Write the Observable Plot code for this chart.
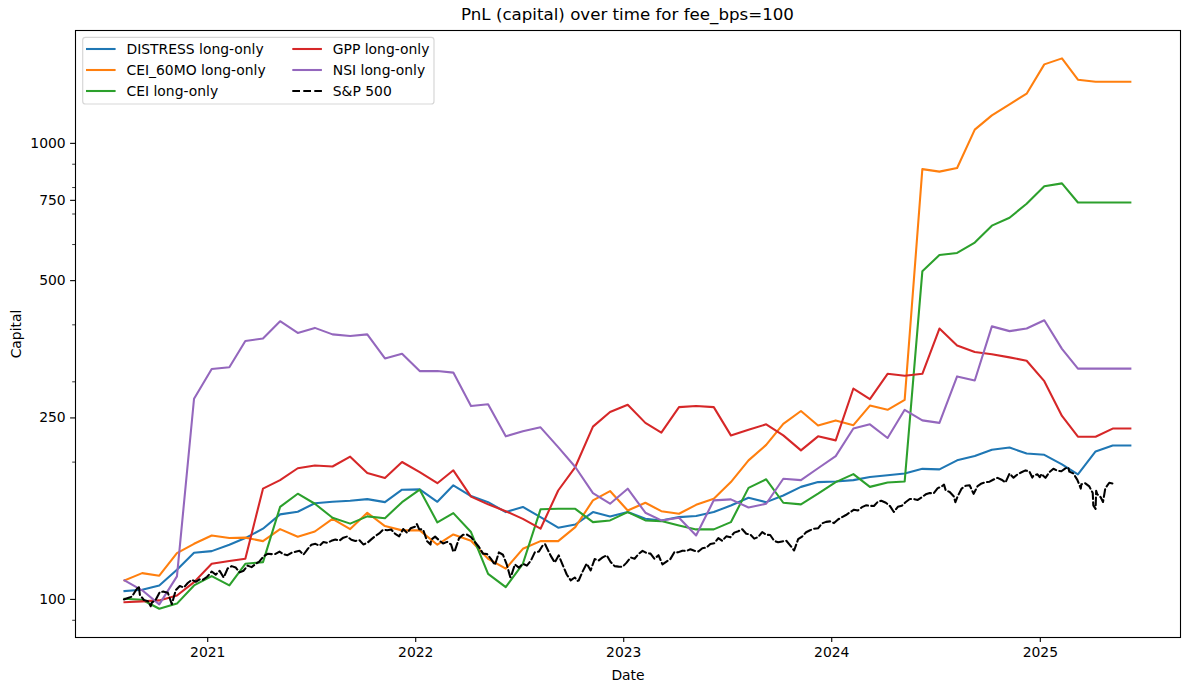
<!DOCTYPE html>
<html><head><meta charset="utf-8">
<script src="https://cdn.jsdelivr.net/npm/d3@7"></script>
<script src="https://cdn.jsdelivr.net/npm/@observablehq/plot@0.6"></script>
<style>
html,body{margin:0;padding:0;background:#fff;}
#wrap{position:relative;width:1189px;height:690px;font-family:"DejaVu Sans",sans-serif;}
#overlay{position:absolute;left:0;top:0;pointer-events:none;}
</style></head><body><div id="wrap"></div>
<script>
const titleText = "PnL (capital) over time for fee_bps=100";
const xLabel = "Date";
const yLabel = "Capital";
const yearTicks = ["2021-01-01","2022-01-01","2023-01-01","2024-01-01","2025-01-01"];
const yMajorTicks = [100, 250, 500, 750, 1000];
const yMinorTicks = [90, 200, 300, 400, 600, 700, 800, 900];

const seriesNames = ["DISTRESS long-only","CEI_60MO long-only","CEI long-only","GPP long-only","NSI long-only"];
const seriesColors = ["#1f77b4","#ff7f0e","#2ca02c","#d62728","#9467bd"];
const benchName = "S&P 500";

const monthDates = [
"2020-08-08","2020-09-08","2020-10-08","2020-11-08","2020-12-08",
"2021-01-08","2021-02-08","2021-03-08","2021-04-08","2021-05-08","2021-06-08","2021-07-08","2021-08-08","2021-09-08","2021-10-08","2021-11-08","2021-12-08",
"2022-01-08","2022-02-08","2022-03-08","2022-04-08","2022-05-08","2022-06-08","2022-07-08","2022-08-08","2022-09-08","2022-10-08","2022-11-08","2022-12-08",
"2023-01-08","2023-02-08","2023-03-08","2023-04-08","2023-05-08","2023-06-08","2023-07-08","2023-08-08","2023-09-08","2023-10-08","2023-11-08","2023-12-08",
"2024-01-08","2024-02-08","2024-03-08","2024-04-08","2024-05-08","2024-06-08","2024-07-08","2024-08-08","2024-09-08","2024-10-08","2024-11-08","2024-12-08",
"2025-01-08","2025-02-08","2025-03-08","2025-04-08","2025-05-08","2025-06-08"];

const distress = [104.3,105.0,107.3,116.2,126.6,127.6,131.8,136.3,142.9,153.6,155.7,162.5,163.7,164.5,165.9,163.4,174.0,
174.3,163.7,177.9,168.5,163.4,155.4,159.5,151.5,143.6,145.9,155.4,152.0,
155.4,150.2,149.0,151.5,152.3,155.4,160.7,167.1,163.4,169.0,176.5,180.8,
181.4,182.6,185.6,187.2,188.9,193.3,192.8,201.8,206.2,212.9,215.3,208.9,
207.5,197.8,187.9,211.1,217.5,217.5];

const cei60 = [110.1,114.2,112.7,126.3,132.4,138.1,136.3,136.6,134.2,142.6,137.2,140.9,150.2,142.6,154.9,144.8,141.7,
141.7,131.8,138.8,134.5,122.8,116.8,129.1,134.2,134.2,144.0,164.9,172.8,
156.6,162.9,156.1,154.1,161.2,166.2,180.8,201.8,218.2,242.7,258.9,240.6,
246.9,241.0,266.1,260.5,273.9,878,867,883,1072,1152,1218,1285,
1490,1536,1379,1365,1365,1365];

const cei = [100.3,99.8,95.4,97.9,107.3,112.5,107.3,119.7,120.7,159.5,170.5,162.1,151.0,146.6,152.1,150.7,163.4,
174.0,147.5,154.6,140.5,113.8,106.4,119.7,157.6,158.0,158.0,147.7,149.0,
155.4,149.0,148.5,145.3,142.4,142.4,147.7,175.6,183.4,162.9,161.6,170.5,
180.8,188.2,176.5,180.4,181.4,524,569,575,606,660,687,737,
805,817,742,742,742,742];

const gpp = [98.6,99.0,99.5,102.0,109.1,119.7,121.4,122.8,174.9,182.6,193.9,196.6,195.6,205.6,189.3,184.6,200.1,
190.2,179.8,191.9,168.0,161.6,156.1,150.2,142.9,173.3,195.1,239.3,257.5,
267.2,243.8,232.1,264.0,265.4,264.0,228.9,235.6,242.0,228.9,212.2,227.8,
223.2,290,275,312.4,309.3,312.4,392.6,360.5,348.6,344.9,339.4,333.7,
301.0,252.5,227.4,227.4,236.9,236.9];

const nsi = [110.1,104.7,97.5,112.3,275.4,320.0,322.8,368.7,373.5,407.4,384.0,393.9,381.2,378.0,381.2,337.6,345.6,
316.7,316.7,314.3,265.4,267.8,227.8,233.8,238.4,215.7,195.1,171.0,162.1,
174.9,154.9,149.0,151.0,138.1,164.9,165.7,159.0,162.1,183.9,182.6,193.9,
206.2,237.0,242.0,225.9,260.5,246.9,243.8,308.3,302.0,396.9,387.5,392.6,
409.3,354.3,320.6,320.6,320.6,320.6];

const spDates = [
"2020-08-07","2020-08-14","2020-08-21","2020-08-28","2020-09-02","2020-09-04","2020-09-11","2020-09-18","2020-09-23","2020-09-25",
"2020-10-02","2020-10-09","2020-10-16","2020-10-23","2020-10-30","2020-11-06","2020-11-13","2020-11-20","2020-11-27",
"2020-12-04","2020-12-11","2020-12-18","2020-12-24","2020-12-31",
"2021-01-08","2021-01-15","2021-01-22","2021-01-29","2021-02-05","2021-02-12","2021-02-19","2021-02-26",
"2021-03-05","2021-03-12","2021-03-19","2021-03-26","2021-04-01","2021-04-09","2021-04-16","2021-04-23","2021-04-30",
"2021-05-07","2021-05-14","2021-05-21","2021-05-28","2021-06-04","2021-06-11","2021-06-18","2021-06-25",
"2021-07-02","2021-07-09","2021-07-16","2021-07-23","2021-07-30","2021-08-06","2021-08-13","2021-08-20","2021-08-27",
"2021-09-03","2021-09-10","2021-09-17","2021-09-24","2021-10-01","2021-10-08","2021-10-15","2021-10-22","2021-10-29",
"2021-11-05","2021-11-12","2021-11-19","2021-11-26","2021-12-03","2021-12-10","2021-12-17","2021-12-23","2021-12-31",
"2022-01-03","2022-01-07","2022-01-14","2022-01-21","2022-01-27","2022-01-28","2022-02-04","2022-02-11","2022-02-18","2022-02-25",
"2022-03-04","2022-03-08","2022-03-11","2022-03-18","2022-03-25","2022-04-01","2022-04-08","2022-04-14","2022-04-22","2022-04-29",
"2022-05-06","2022-05-13","2022-05-20","2022-05-27","2022-06-03","2022-06-10","2022-06-16","2022-06-17","2022-06-24",
"2022-07-01","2022-07-08","2022-07-15","2022-07-22","2022-07-29","2022-08-05","2022-08-12","2022-08-16","2022-08-19","2022-08-26",
"2022-09-02","2022-09-09","2022-09-16","2022-09-23","2022-09-30","2022-10-07","2022-10-12","2022-10-14","2022-10-21","2022-10-28",
"2022-11-04","2022-11-11","2022-11-18","2022-11-25","2022-12-02","2022-12-09","2022-12-16","2022-12-23","2022-12-30",
"2023-01-06","2023-01-13","2023-01-20","2023-01-27","2023-02-03","2023-02-10","2023-02-17","2023-02-24",
"2023-03-03","2023-03-10","2023-03-17","2023-03-24","2023-03-31","2023-04-06","2023-04-14","2023-04-21","2023-04-28",
"2023-05-05","2023-05-12","2023-05-19","2023-05-26","2023-06-02","2023-06-09","2023-06-16","2023-06-23","2023-06-30",
"2023-07-07","2023-07-14","2023-07-21","2023-07-28","2023-08-04","2023-08-11","2023-08-18","2023-08-25",
"2023-09-01","2023-09-08","2023-09-15","2023-09-22","2023-09-29","2023-10-06","2023-10-13","2023-10-20","2023-10-27",
"2023-11-03","2023-11-10","2023-11-17","2023-11-24","2023-12-01","2023-12-08","2023-12-15","2023-12-22","2023-12-29",
"2024-01-05","2024-01-12","2024-01-19","2024-01-26","2024-02-02","2024-02-09","2024-02-16","2024-02-23",
"2024-03-01","2024-03-08","2024-03-15","2024-03-22","2024-03-28","2024-04-05","2024-04-12","2024-04-19","2024-04-26",
"2024-05-03","2024-05-10","2024-05-17","2024-05-24","2024-05-31","2024-06-07","2024-06-14","2024-06-21","2024-06-28",
"2024-07-05","2024-07-12","2024-07-16","2024-07-19","2024-07-26","2024-08-02","2024-08-05","2024-08-09","2024-08-16","2024-08-23","2024-08-30",
"2024-09-06","2024-09-13","2024-09-20","2024-09-27","2024-10-04","2024-10-11","2024-10-18","2024-10-25",
"2024-11-01","2024-11-08","2024-11-15","2024-11-22","2024-11-29","2024-12-06","2024-12-13","2024-12-18","2024-12-20","2024-12-27","2024-12-31",
"2025-01-03","2025-01-10","2025-01-17","2025-01-24","2025-01-31","2025-02-07","2025-02-14","2025-02-19","2025-02-21","2025-02-28",
"2025-03-07","2025-03-13","2025-03-14","2025-03-21","2025-03-28","2025-04-03","2025-04-04","2025-04-08","2025-04-09","2025-04-11",
"2025-04-17","2025-04-21","2025-04-25","2025-05-02","2025-05-09"];

const spValues = [
100.0,100.7,101.4,104.7,106.9,102.3,99.7,99.1,96.6,98.4,
99.9,103.8,104.0,103.4,97.6,104.8,107.0,106.2,108.6,
110.4,109.3,110.7,110.5,112.1,
115.1,113.3,115.5,111.7,116.9,118.3,117.5,114.6,
115.6,118.6,117.7,119.6,120.9,124.2,125.9,125.7,125.8,
127.3,125.6,125.0,126.5,127.2,127.8,125.3,128.8,
131.8,132.4,131.1,133.6,133.1,134.4,135.3,134.5,136.6,
137.4,135.1,134.3,134.9,132.0,133.0,135.4,137.7,139.5,
142.3,141.8,142.3,139.2,137.5,142.7,139.9,143.2,144.4,
146.3,142.6,142.2,134.1,131.9,135.2,137.3,134.8,132.6,133.7,
132.0,127.2,128.2,136.1,138.6,138.7,136.9,134.0,130.3,126.0,
125.8,122.7,119.0,126.8,125.3,119.0,111.8,112.1,119.3,
117.4,119.7,118.6,121.6,126.8,127.3,131.4,132.2,129.8,124.6,
120.5,124.9,118.9,113.4,110.1,111.7,109.8,110.0,115.2,119.8,
115.8,122.6,121.7,123.6,125.0,120.8,118.3,118.0,117.9,
120.4,123.6,122.8,125.8,127.8,126.4,126.0,122.7,
125.0,119.3,121.0,122.7,127.0,126.8,127.9,127.7,128.8,
127.8,127.4,129.5,129.9,132.3,132.8,136.3,134.4,137.5,
136.8,140.1,141.1,142.5,139.3,138.8,135.9,137.0,
140.4,138.6,138.4,134.4,133.4,134.0,134.6,131.4,128.0,
135.5,137.3,140.4,141.8,142.9,143.2,146.8,147.9,148.3,
147.0,149.7,151.5,153.1,155.2,157.3,156.7,159.3,
160.8,160.4,160.2,163.8,164.5,162.9,160.3,155.5,159.6,
160.5,163.5,166.0,166.0,165.2,167.4,170.0,171.1,170.9,
175.4,176.9,178.5,173.4,172.0,168.4,163.4,168.3,175.0,177.5,177.9,
170.4,177.2,179.6,180.7,181.2,183.2,184.7,183.0,
180.5,188.8,184.9,188.0,190.0,191.8,190.6,185.0,186.8,188.1,185.3,
188.4,184.7,190.1,193.4,191.5,191.0,193.8,194.8,190.6,188.8,
182.9,175.0,178.8,179.7,176.9,171.1,160.8,157.9,173.0,170.0,
167.5,163.5,175.1,180.2,179.4];

const seriesValues = [distress, cei60, cei, gpp, nsi];
const rows = [];
seriesNames.forEach((name, k) => seriesValues[k].forEach((v, i) => rows.push({date: new Date(monthDates[i]), value: v, series: name})));
const sp = spDates.map((d, i) => ({date: new Date(d), value: spValues[i]}));

const fs = 13.9;
const chart = Plot.plot({
  width: 1189, height: 690,
  marginLeft: 75, marginRight: 9, marginTop: 30, marginBottom: 53,
  style: {fontFamily: "DejaVu Sans, sans-serif", fontSize: fs + "px", background: "white", color: "black", overflow: "visible"},
  x: {type: "utc", domain: [new Date("2020-05-14"), new Date("2025-09-04")]},
  y: {type: "log", domain: [82.5, 1768]},
  color: {domain: seriesNames, range: seriesColors},
  marks: [
    Plot.axisY({ticks: yMinorTicks, tickSize: 2.8, tickFormat: () => "", label: null, strokeWidth: 0.8}),
    Plot.axisY({ticks: yMajorTicks, tickSize: 4.9, tickPadding: 4.9, tickFormat: d => String(d), strokeWidth: 1.1,
      label: yLabel, labelAnchor: "center", labelArrow: "none", labelOffset: 64, fontSize: fs}),
    Plot.axisX({ticks: yearTicks.map(d => new Date(d)), tickSize: 4.9, tickPadding: 4.9, tickFormat: "%Y", strokeWidth: 1.1,
      label: xLabel, labelAnchor: "center", labelArrow: "none", labelOffset: 42, fontSize: fs}),
    Plot.line(rows, {x: "date", y: "value", z: "series", stroke: "series", strokeWidth: 2.08, strokeLinejoin: "round", strokeLinecap: "square"}),
    Plot.line(sp, {x: "date", y: "value", stroke: "black", strokeWidth: 2.08, strokeDasharray: "7.7,3.3"}),
    Plot.frame({stroke: "black", strokeWidth: 1.1})
  ]
});
const wrap = document.getElementById("wrap");
wrap.appendChild(chart);

const ov = d3.select(wrap).append("svg").attr("id", "overlay").attr("width", 1189).attr("height", 690)
  .style("font-family", "DejaVu Sans, sans-serif");
ov.append("text").attr("x", 627.5).attr("y", 20).attr("text-anchor", "middle")
  .attr("font-size", 16.67).attr("fill", "black").text(titleText);

const lg = ov.append("g");
lg.append("rect").attr("x", 82.7).attr("y", 37.3).attr("width", 351.3).attr("height", 66.7).attr("rx", 2.8)
  .attr("fill", "white").attr("fill-opacity", 0.8).attr("stroke", "#cccccc").attr("stroke-opacity", 0.8).attr("stroke-width", 1.2);
const entries = seriesNames.map((n, i) => ({name: n, color: seriesColors[i], dash: null})).concat([{name: benchName, color: "black", dash: "7.7,3.3"}]);
const colX = [86, 292.3];
const rowY = [49, 70, 91];
entries.forEach((e, i) => {
  const c = Math.floor(i / 3), r = i % 3;
  const line = lg.append("line").attr("x1", colX[c]).attr("x2", colX[c] + 29.6).attr("y1", rowY[r]).attr("y2", rowY[r])
    .attr("stroke", e.color).attr("stroke-width", 2.08);
  if (e.dash) line.attr("stroke-dasharray", e.dash);
  lg.append("text").attr("x", colX[c] + 40.5).attr("y", rowY[r]).attr("dy", "0.36em")
    .attr("font-size", fs).attr("fill", "black").text(e.name);
});
</script></body></html>
